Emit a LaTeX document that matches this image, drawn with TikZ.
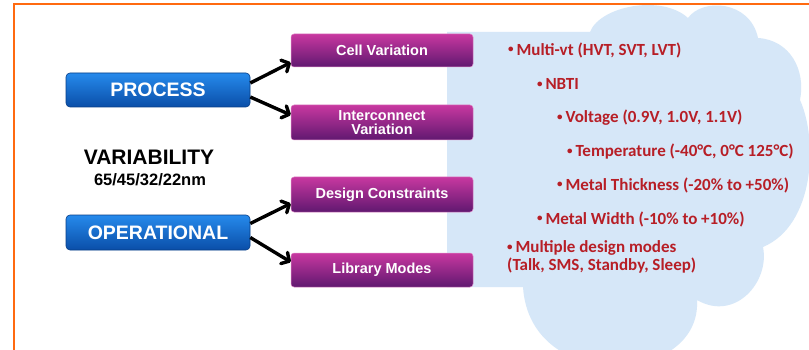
\documentclass[tikz,border=0pt]{standalone}
\usepackage{fontspec}
\setmainfont{Liberation Sans}
\newfontfamily\itemfont{Carlito}
\usetikzlibrary{arrows.meta}

\definecolor{frameorange}{RGB}{255,106,16}
\definecolor{cloudblue}{RGB}{214,231,248}
\definecolor{itemred}{RGB}{183,30,38}
\definecolor{procTop}{RGB}{38,138,236}
\definecolor{procBot}{RGB}{10,78,168}
\definecolor{varTop}{RGB}{200,56,160}
\definecolor{varBot}{RGB}{96,24,112}

\newcommand{\dotmark}{\raisebox{0.25ex}{\fontsize{11}{11}\selectfont•}\,}

\begin{document}
\begin{tikzpicture}[x=1pt,y=-1pt,
  catbox/.style={rounded corners=4pt, minimum width=184pt, minimum height=34pt,
    top color=procTop, bottom color=procBot, draw=procBot!80!black, line width=0.6pt,
    text=white, font=\fontsize{19.5}{19.5}\selectfont\bfseries, inner sep=0pt},
  varbox/.style={rounded corners=3pt, minimum width=182pt, minimum height=33pt,
    top color=varTop, bottom color=varBot, draw=varTop!60!white, line width=0.5pt,
    text=white, font=\fontsize{14.5}{14}\selectfont\bfseries, align=center, inner sep=0pt},
  item/.style={anchor=west, text=itemred, font=\itemfont\fontsize{17}{18}\selectfont\bfseries,
    inner sep=0pt, align=left},
  link/.style={line width=3.4pt, -{Straight Barb[length=6pt,width=13pt,round]}}]

% page and frame
\fill[white] (0,0) rectangle (809,350);
\useasboundingbox (0,0) rectangle (809,350);
\draw[frameorange, line width=2.5pt] (14,351) -- (14,4) -- (810,4);

% cloud behind the variation list
\begin{scope}
  \clip (0,0) rectangle (809,350);
  \fill[cloudblue] (447,32) -- (590,32)
    .. controls (600,6) and (662,-6) .. (688,18)
    .. controls (702,-2) and (750,0) .. (758,38)
    .. controls (790,40) and (806,70) .. (800,100)
    .. controls (818,140) and (815,225) .. (763,247)
    .. controls (770,282) and (735,322) .. (697,300)
    .. controls (702,385) and (530,395) .. (523,287)
    -- (447,287) -- cycle;
\end{scope}

% categories
\node[catbox] (proc) at (158,90) {PROCESS};
\node[catbox, minimum height=35pt] (oper) at (158,232.5) {OPERATIONAL};

\node[font=\fontsize{21}{21}\selectfont\bfseries] (var) at (149,157) {VARIABILITY};
\node[font=\fontsize{16.5}{16.5}\selectfont\bfseries] (nodes) at (150,180) {65/45/32/22nm};

% variation sources
\node[varbox] (cell) at (382,50.5) {Cell Variation};
\node[varbox, minimum height=35pt] (inter) at (382,122.5) {Interconnect\\Variation};
\node[varbox, minimum height=35pt] (design) at (382,194.5) {Design Constraints};
\node[varbox, minimum height=34pt] (lib) at (382,270) {Library Modes};

% connectors
\draw[link] ([yshift=7pt]proc.east) -- ([yshift=-12pt]cell.west);
\draw[link] ([yshift=-7pt]proc.east) -- ([yshift=7.5pt]inter.west);
\draw[link] ([yshift=9pt]oper.east) -- ([yshift=-9pt]design.west);
\draw[link] ([yshift=-5pt]oper.east) -- ([yshift=8pt]lib.west);

% list of variation parameters
\node[item] (i1) at (508,50) {\dotmark Multi-vt (HVT, SVT, LVT)};
\node[item] (i2) at (537,84) {\dotmark NBTI};
\node[item] (i3) at (557,118) {\dotmark Voltage (0.9V, 1.0V, 1.1V)};
\node[item] (i4) at (567,152) {\dotmark Temperature (-40°C, 0°C 125°C)};
\node[item] (i5) at (557,185) {\dotmark Metal Thickness (-20\% to +50\%)};
\node[item] (i6) at (537,219) {\dotmark Metal Width (-10\% to +10\%)};
\node[item] (i7) at (507,257) {\dotmark Multiple design modes\\(Talk, SMS, Standby, Sleep)};
\end{tikzpicture}
\end{document}
